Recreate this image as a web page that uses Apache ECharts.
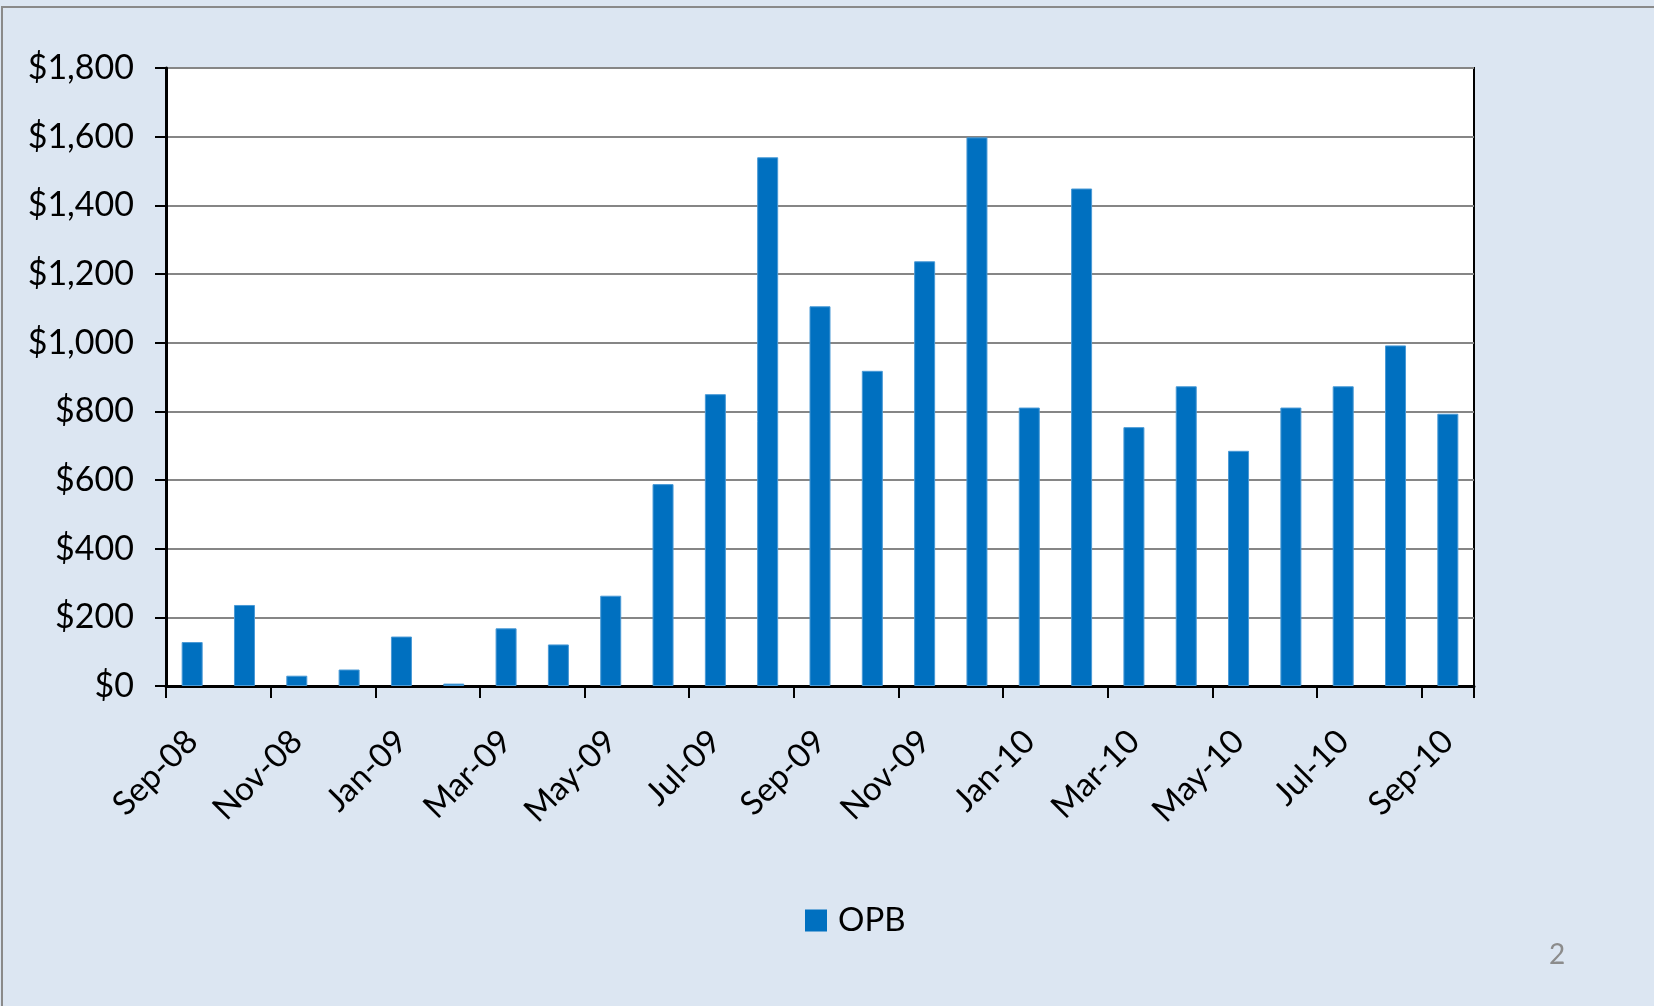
<!DOCTYPE html>
<html>
<head>
<meta charset="utf-8">
<script src="https://cdn.jsdelivr.net/npm/echarts@6/dist/echarts.min.js"></script>
<style>
  html, body { margin: 0; padding: 0; background: #dce6f2; }
  #chart { width: 1654px; height: 1006px; }
</style>
</head>
<body>
<div id="chart"></div>
<script>
const months = [
  "Sep-08", "Oct-08", "Nov-08", "Dec-08", "Jan-09", "Feb-09", "Mar-09", "Apr-09",
  "May-09", "Jun-09", "Jul-09", "Aug-09", "Sep-09", "Oct-09", "Nov-09", "Dec-09",
  "Jan-10", "Feb-10", "Mar-10", "Apr-10", "May-10", "Jun-10", "Jul-10", "Aug-10", "Sep-10"
];
const opb = [
  128, 236, 30, 48, 144, 7, 168, 121,
  263, 588, 850, 1540, 1106, 918, 1237, 1598,
  811, 1449, 754, 873, 685, 811, 873, 992, 793
];

const chart = echarts.init(document.getElementById("chart"));
const font = "Lato, 'Open Sans', sans-serif";

chart.setOption({
  backgroundColor: "#dce6f2",
  textStyle: { fontFamily: font },
  graphic: [
    {
      type: "polyline",
      silent: true,
      shape: { points: [[2, 1010], [2, 7], [1660, 7]] },
      style: { stroke: "#8a8a8a", lineWidth: 2, fill: null }
    },
    {
      type: "text",
      left: 1549,
      top: 941,
      style: { text: "2", fill: "#8c8c8c", font: "28px " + font }
    }
  ],
  grid: {
    left: 166,
    right: 180,
    top: 68,
    bottom: 320,
    show: true,
    backgroundColor: "#ffffff",
    borderColor: "#000000",
    borderWidth: 2
  },
  legend: {
    data: ["OPB"],
    left: 805,
    top: 904,
    padding: 0,
    itemWidth: 22,
    itemHeight: 22,
    icon: "rect",
    itemStyle: { borderWidth: 0 },
    textStyle: { fontSize: 33, color: "#000", fontFamily: font, padding: [4, 0, 0, 6] }
  },
  xAxis: {
    type: "category",
    data: months,
    boundaryGap: true,
    axisLine: { lineStyle: { color: "#000", width: 3 } },
    axisTick: {
      show: true,
      interval: 1,
      length: 12,
      alignWithLabel: false,
      lineStyle: { color: "#000", width: 2 }
    },
    axisLabel: {
      interval: 1,
      rotate: 45,
      margin: 50,
      fontSize: 33,
      color: "#000",
      fontFamily: font
    },
    splitLine: { show: false }
  },
  yAxis: {
    type: "value",
    min: 0,
    max: 1800,
    interval: 200,
    axisLine: { show: true, lineStyle: { color: "#000", width: 3 } },
    axisTick: { show: true, length: 11, lineStyle: { color: "#000", width: 2 } },
    axisLabel: {
      margin: 32,
      fontSize: 34,
      color: "#000",
      fontFamily: font,
      formatter: function (v) {
        return "$" + v.toLocaleString("en-US");
      }
    },
    splitLine: { lineStyle: { color: "#868686", width: 2 } }
  },
  series: [
    {
      name: "OPB",
      type: "bar",
      data: opb,
      barWidth: 21,
      itemStyle: { color: "#0070c0", borderColor: "#4a9ad6", borderWidth: 1 }
    }
  ]
});
</script>
</body>
</html>
